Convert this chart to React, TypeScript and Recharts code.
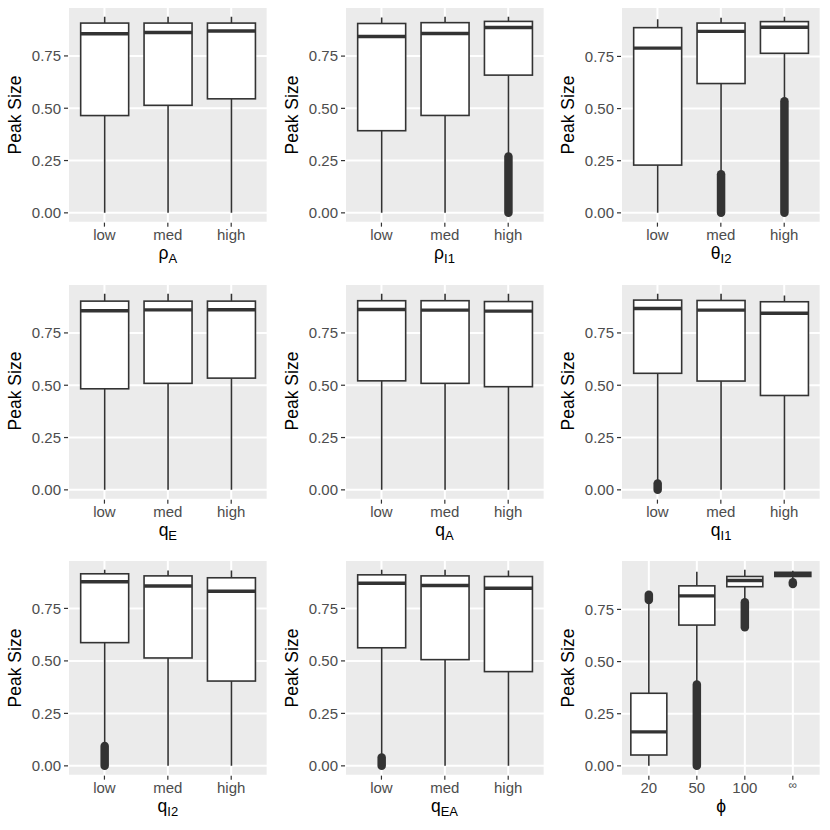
import React from "react";
import { ComposedChart, Bar, XAxis, YAxis, CartesianGrid } from "recharts";

const levels = ["low", "med", "high"];
const phiLevels = ["20", "50", "100", "∞"];

const majorTicks = [0, 0.25, 0.5, 0.75];
const minorTicks = [0.125, 0.375, 0.625, 0.875];

// per category: [whisker low, Q1, median, Q3, whisker high]
const rhoA = [
    [0, 0.465, 0.856, 0.907, 0.937],
    [0, 0.514, 0.862, 0.907, 0.937],
    [0, 0.545, 0.869, 0.907, 0.937],
];
const rhoI1 = [
    [0, 0.393, 0.844, 0.906, 0.935],
    [0, 0.466, 0.858, 0.91, 0.938],
    [0.28, 0.659, 0.887, 0.916, 0.938],
];
const thetaI2 = [
    [0, 0.229, 0.79, 0.888, 0.928],
    [0.19, 0.62, 0.87, 0.91, 0.935],
    [0.54, 0.765, 0.89, 0.917, 0.94],
];
const qE = [
    [0, 0.483, 0.856, 0.902, 0.937],
    [0, 0.509, 0.86, 0.902, 0.937],
    [0, 0.534, 0.861, 0.902, 0.937],
];
const qA = [
    [0, 0.521, 0.862, 0.904, 0.937],
    [0, 0.509, 0.859, 0.904, 0.937],
    [0, 0.493, 0.854, 0.9, 0.937],
];
const qI1 = [
    [0.035, 0.557, 0.867, 0.907, 0.937],
    [0, 0.52, 0.859, 0.905, 0.937],
    [0, 0.451, 0.844, 0.899, 0.929],
];
const qI2 = [
    [0.1, 0.587, 0.877, 0.915, 0.934],
    [0, 0.514, 0.857, 0.905, 0.931],
    [0, 0.404, 0.832, 0.896, 0.931],
];
const qEA = [
    [0.045, 0.5625, 0.87, 0.91, 0.934],
    [0, 0.506, 0.859, 0.905, 0.934],
    [0, 0.449, 0.846, 0.902, 0.931],
];
const phi = [
    [0, 0.052, 0.163, 0.348, 0.79],
    [0.395, 0.675, 0.815, 0.863, 0.931],
    [0.79, 0.859, 0.889, 0.908, 0.94],
    [0.885, 0.908, 0.918, 0.928, 0.935],
];

// outlier spans [min, max], null when there are none
const noOut = [null, null, null];
const rhoI1Out = [null, null, [0, 0.27]];
const thetaI2Out = [null, [0, 0.185], [0, 0.535]];
const qI1Out = [[0, 0.03], null, null];
const qI2Out = [[0, 0.095], null, null];
const qEAOut = [[0, 0.04], null, null];
const phiOut = [[0.795, 0.82], [0, 0.39], [0.665, 0.785], [0.872, 0.88]];

type Panel = { sym: string; sub: string; cats: string[]; stats: number[][]; out: (number[] | null)[] };

const panels: Panel[] = [
    { sym: "ρ", sub: "A", cats: levels, stats: rhoA, out: noOut },
    { sym: "ρ", sub: "I1", cats: levels, stats: rhoI1, out: rhoI1Out },
    { sym: "θ", sub: "I2", cats: levels, stats: thetaI2, out: thetaI2Out },
    { sym: "q", sub: "E", cats: levels, stats: qE, out: noOut },
    { sym: "q", sub: "A", cats: levels, stats: qA, out: noOut },
    { sym: "q", sub: "I1", cats: levels, stats: qI1, out: qI1Out },
    { sym: "q", sub: "I2", cats: levels, stats: qI2, out: qI2Out },
    { sym: "q", sub: "EA", cats: levels, stats: qEA, out: qEAOut },
    { sym: "ϕ", sub: "", cats: phiLevels, stats: phi, out: phiOut },
];

const W = 830 / 3;
const M = { top: 7, right: 9, bottom: 0, left: 0 };
const Y_W = 68;
const X_H = 54;
const INK = "#333333";

const BoxShape = (props: any) => {
    const { x, y, width, height, payload } = props;
    const top = Math.min(y, y + height);
    const bottom = Math.max(y, y + height);
    const [lo, hi] = payload.span;
    const py = (v: number) => bottom - ((v - lo) / (hi - lo)) * (bottom - top);
    const cx = x + width / 2;
    return (
        <g>
            {payload.out && (
                <line x1={cx} x2={cx} y1={py(payload.out[0])} y2={py(payload.out[1])}
                    stroke={INK} strokeWidth={8.5} strokeLinecap="round" />
            )}
            <line x1={cx} x2={cx} y1={py(payload.wlo)} y2={py(payload.q1)} stroke={INK} strokeWidth={1.6} />
            <line x1={cx} x2={cx} y1={py(payload.q3)} y2={py(payload.whi)} stroke={INK} strokeWidth={1.6} />
            <rect x={x} y={py(payload.q3)} width={width} height={py(payload.q1) - py(payload.q3)}
                fill="#FFFFFF" stroke={INK} strokeWidth={1.6} />
            <line x1={x} x2={x + width} y1={py(payload.med)} y2={py(payload.med)} stroke={INK} strokeWidth={3.4} />
        </g>
    );
};

const XTick = (props: any) => {
    const { x, y, payload } = props;
    const inf = payload.value === "∞";
    return (
        <text x={x} y={y} dy={inf ? 5 : 9.5} textAnchor="middle" fill="#4D4D4D" fontSize={inf ? 12 : 15}>
            {payload.value}
        </text>
    );
};

function BoxPanel({ p }: { p: Panel }) {
    const data = p.cats.map((c, i) => {
        const [wlo, q1, med, q3, whi] = p.stats[i];
        const out = p.out[i];
        const lo = out ? Math.min(wlo, out[0]) : wlo;
        const hi = out ? Math.max(whi, out[1]) : whi;
        return { cat: c, wlo, q1, med, q3, whi, out, span: [lo, hi] };
    });
    const dLo = Math.min(...data.map((d) => d.span[0]));
    const dHi = Math.max(...data.map((d) => d.span[1]));
    const ext = (dHi - dLo) * 0.05;
    const domain = [dLo - ext, dHi + ext];

    const plotW = W - M.left - M.right - Y_W;
    const plotH = W - M.top - M.bottom - X_H;
    const pad = (0.1 * plotW) / (p.cats.length + 1.2);

    return (
        <div style={{ position: "relative", width: W, height: W }}>
            {/* underlay: panel background and minor grid lines */}
            <div style={{ position: "absolute", left: 0, top: 0 }}>
                <ComposedChart width={W} height={W} data={data} margin={M}>
                    <CartesianGrid fill="#EBEBEB" fillOpacity={1} vertical={false} stroke="#FFFFFF" strokeWidth={1} />
                    <XAxis dataKey="cat" height={X_H} padding={{ left: pad, right: pad }} axisLine={false} tick={false} tickLine={false} />
                    <YAxis type="number" width={Y_W} domain={domain} allowDataOverflow ticks={minorTicks} interval={0}
                        axisLine={false} tick={false} tickLine={false} />
                </ComposedChart>
            </div>
            <div style={{ position: "absolute", left: 0, top: 0 }}>
                <ComposedChart width={W} height={W} data={data} margin={M} barCategoryGap="12.5%">
                    <CartesianGrid stroke="#FFFFFF" strokeWidth={2} />
                    <XAxis
                        dataKey="cat"
                        height={X_H}
                        padding={{ left: pad, right: pad }}
                        axisLine={false}
                        tickSize={4}
                        tickMargin={4}
                        tickLine={{ stroke: INK, strokeWidth: 1.2 }}
                        tick={<XTick />}
                        interval={0}
                    />
                    <YAxis
                        type="number"
                        width={Y_W}
                        domain={domain}
                        allowDataOverflow
                        ticks={majorTicks}
                        interval={0}
                        tickFormatter={(v: number) => v.toFixed(2)}
                        axisLine={false}
                        tickSize={4}
                        tickMargin={3}
                        tickLine={{ stroke: INK, strokeWidth: 1.2 }}
                        tick={{ fill: "#4D4D4D", fontSize: 15 }}
                    />
                    <Bar dataKey="span" shape={<BoxShape />} isAnimationActive={false} />
                </ComposedChart>
            </div>
            <div
                style={{
                    position: "absolute",
                    left: 16,
                    top: M.top + plotH / 2,
                    transform: "translate(-50%, -50%) rotate(-90deg)",
                    whiteSpace: "nowrap",
                    fontSize: 17.5,
                    lineHeight: 1,
                    color: "#000",
                }}
            >
                Peak Size
            </div>
            <div
                style={{
                    position: "absolute",
                    left: M.left + Y_W + plotW / 2,
                    top: M.top + plotH + 23.5,
                    transform: "translateX(-50%)",
                    whiteSpace: "nowrap",
                    fontSize: 17.5,
                    lineHeight: 0.8,
                    color: "#000",
                }}
            >
                {p.sym}
                {p.sub && <span style={{ fontSize: 13, position: "relative", top: 4 }}>{p.sub}</span>}
            </div>
        </div>
    );
}

export default function App() {
    return (
        <div
            style={{
                position: "absolute",
                left: 0,
                top: 0,
                width: 830,
                height: 830,
                background: "#FFFFFF",
                display: "flex",
                flexWrap: "wrap",
                fontFamily: "'Liberation Sans', Arial, Helvetica, sans-serif",
            }}
        >
            {panels.map((p, i) => (
                <BoxPanel key={i} p={p} />
            ))}
        </div>
    );
}
